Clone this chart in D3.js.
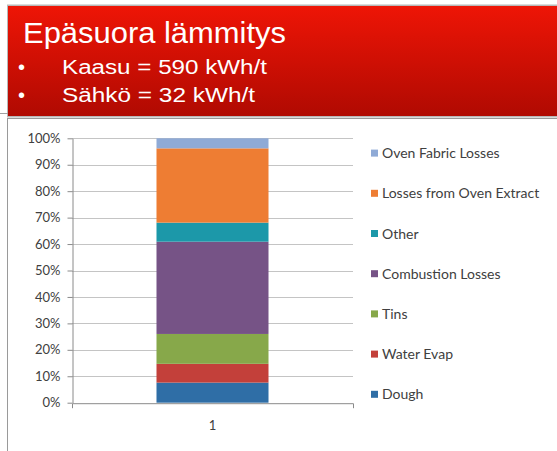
<!DOCTYPE html>
<html>
<head>
<meta charset="utf-8">
<script src="https://cdn.jsdelivr.net/npm/d3@7"></script>
<style>
  html, body { margin: 0; padding: 0; background: #fff; }
  svg { display: block; }
</style>
</head>
<body>
<svg id="chart" width="557" height="451"></svg>
<script>
// ---- data ----
const title = "Epäsuora lämmitys";
const bullets = ["Kaasu = 590 kWh/t", "Sähkö = 32 kWh/t"];
const categories = ["1"];
const seriesNames = ["Dough", "Water Evap", "Tins", "Combustion Losses", "Other", "Losses from Oven Extract", "Oven Fabric Losses"];
const seriesValues = [7.6, 7.1, 11.3, 34.9, 7.2, 28.1, 3.8];
const seriesColors = ["#2f6ea6", "#c3403a", "#87a84a", "#765386", "#1c98a9", "#ee7d33", "#8faad6"];
const yTicks = [0, 10, 20, 30, 40, 50, 60, 70, 80, 90, 100];
const yTickLabels = ["0%", "10%", "20%", "30%", "40%", "50%", "60%", "70%", "80%", "90%", "100%"];

const svg = d3.select("#chart");

// ---- header ----
const defs = svg.append("defs");
const grad = defs.append("linearGradient").attr("id", "hdr").attr("x1", 0).attr("y1", 0).attr("x2", 0).attr("y2", 1);
grad.append("stop").attr("offset", "0%").attr("stop-color", "#ee1506");
grad.append("stop").attr("offset", "100%").attr("stop-color", "#b00a02");

svg.append("rect").attr("x", 7).attr("y", 4.5).attr("width", 560).attr("height", 113)
  .attr("fill", "#b8b8b8");
svg.append("rect").attr("x", 8).attr("y", 6).attr("width", 560).attr("height", 110)
  .attr("fill", "url(#hdr)");

svg.append("text").attr("x", 23).attr("y", 43)
  .attr("font-family", "Liberation Sans, Arial, sans-serif").attr("font-size", 29)
  .attr("fill", "#fff").attr("textLength", 263).attr("lengthAdjust", "spacingAndGlyphs")
  .text(title);

const bulletBase = [74, 102];
const bulletWidths = [205, 193];
bullets.forEach((b, i) => {
  svg.append("text").attr("x", 18).attr("y", bulletBase[i])
    .attr("font-family", "Liberation Sans, Arial, sans-serif").attr("font-size", 20)
    .attr("fill", "#fff").text("•");
  svg.append("text").attr("x", 62).attr("y", bulletBase[i])
    .attr("font-family", "Liberation Sans, Arial, sans-serif").attr("font-size", 20)
    .attr("fill", "#fff").attr("textLength", bulletWidths[i]).attr("lengthAdjust", "spacingAndGlyphs")
    .text(b);
});

// ---- chart frame ----
svg.append("line").attr("x1", 0).attr("x2", 8).attr("y1", 113.5).attr("y2", 113.5)
  .attr("stroke", "#a0a0a0");
svg.append("rect").attr("x", 7.5).attr("y", 118.5).attr("width", 570).attr("height", 360)
  .attr("fill", "#fff").attr("stroke", "#9a9a9a").attr("stroke-width", 1);

// ---- scales ----
const plot = { left: 72, right: 353, top: 138.3, bottom: 402.7 };
const y = d3.scaleLinear().domain([0, 100]).range([plot.bottom, plot.top]);
const x = d3.scaleBand().domain(categories).range([plot.left, plot.right]).padding(0.43);

// gridlines
svg.append("g").selectAll("line").data(yTicks.filter(d => d > 0)).join("line")
  .attr("x1", plot.left).attr("x2", plot.right)
  .attr("y1", d => Math.round(y(d)) + 0.5).attr("y2", d => Math.round(y(d)) + 0.5)
  .attr("stroke", "#c4c4c4").attr("stroke-width", 1);

// stacked bar
const rows = categories.map(c => {
  const o = { cat: c };
  seriesNames.forEach((s, i) => o[s] = seriesValues[i]);
  return o;
});
const stacked = d3.stack().keys(seriesNames)(rows);
svg.append("g").selectAll("g").data(stacked).join("g")
  .attr("fill", (d, i) => seriesColors[i])
  .selectAll("rect").data(d => d).join("rect")
  .attr("x", d => x(d.data.cat))
  .attr("width", x.bandwidth())
  .attr("y", d => y(d[1]))
  .attr("height", d => y(d[0]) - y(d[1]));

// y axis
const yAxis = svg.append("g").attr("transform", `translate(${plot.left + 0.5},0)`)
  .call(d3.axisLeft(y).tickValues(yTicks).tickFormat((d, i) => yTickLabels[i])
    .tickSizeInner(5).tickSizeOuter(0).tickPadding(7));
yAxis.selectAll("path, line").attr("stroke", "#8a8a8a");
yAxis.selectAll("text").attr("font-family", "Lato, sans-serif").attr("font-size", 13).attr("fill", "#404040");

// x axis
const xAxis = svg.append("g").attr("transform", `translate(0,${plot.bottom + 0.5})`)
  .call(d3.axisBottom(x).tickSizeInner(0).tickSizeOuter(5).tickPadding(18));
xAxis.selectAll("path, line").attr("stroke", "#8a8a8a");
xAxis.selectAll("text").attr("font-family", "Lato, sans-serif").attr("font-size", 13).attr("fill", "#404040");

// legend (reversed order, top = last series)
const legendOrder = seriesNames.map((s, i) => i).reverse();
const ly = d3.scaleLinear().domain([0, 6]).range([158.1, 399.3]);
const leg = svg.append("g").selectAll("g").data(legendOrder).join("g")
  .attr("transform", (d, k) => `translate(371,${ly(k)})`);
leg.append("rect").attr("x", 0).attr("y", -8.5).attr("width", 7).attr("height", 7)
  .attr("fill", d => seriesColors[d]);
leg.append("text").attr("x", 11).attr("y", 0)
  .attr("font-family", "Lato, sans-serif").attr("font-size", 14).attr("fill", "#404040")
  .text(d => seriesNames[d]);
</script>
</body>
</html>
